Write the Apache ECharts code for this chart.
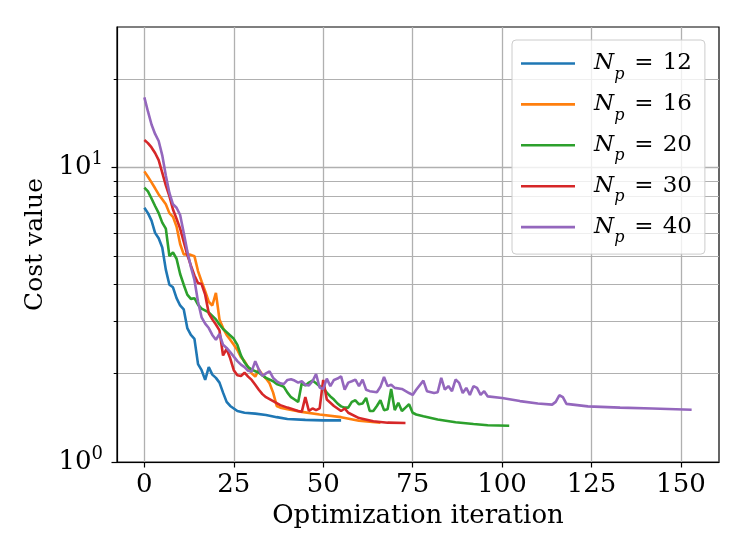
<!DOCTYPE html>
<html><head><meta charset="utf-8">
<script src="https://cdn.jsdelivr.net/npm/echarts@6/dist/echarts.min.js"></script>
<style>html,body{margin:0;padding:0;background:#fff}#c{width:747px;height:560px}</style>
</head><body><div id="c"></div>
<script>
const seriesLabels = ['12', '16', '20', '30', '40'];
const xTicks = [0, 25, 50, 75, 100, 125, 150];
const yMajorTicks = [1, 10];
const yMinorTicks = [2, 3, 4, 5, 6, 7, 8, 9, 20];

const np12 = [[0,7.3],[1,7.0],[2,6.6],[3,6.0],[4,5.75],[5,5.35],[6,4.5],[7,4.0],[8,3.92],[9,3.6],[10,3.4],[11,3.3],[12,2.85],[13,2.7],[14,2.62],[15,2.15],[16,2.05],[17,1.9],[18,2.1],[19,1.98],[20,1.93],[21,1.86],[22,1.72],[23,1.6],[24,1.55],[26,1.49],[28,1.47],[31,1.46],[34,1.445],[37,1.42],[40,1.40],[45,1.39],[50,1.385],[55,1.385]];
const np16 = [[0,9.7],[1,9.3],[2,8.9],[3,8.5],[4,8.1],[5,7.8],[6,7.5],[7,7.0],[8,6.8],[9,6.3],[10,5.5],[11,5.07],[12,5.07],[13,5.05],[14,5.0],[15,4.45],[16,4.1],[17,3.8],[18,3.5],[19,3.4],[20,3.75],[21,3.05],[22,2.85],[23,2.7],[24,2.6],[25,2.5],[26,2.4],[27,2.27],[28,2.2],[29,2.1],[30,2.0],[31,1.95],[32,2.06],[33,1.98],[34,1.92],[35,1.85],[36,1.72],[37,1.55],[38,1.53],[40,1.51],[44,1.48],[49,1.45],[55,1.42],[60,1.38],[66,1.36]];
const np20 = [[0,8.55],[1,8.3],[2,7.85],[3,7.4],[4,7.0],[5,6.5],[6,6.2],[7,5.0],[8,5.15],[9,4.9],[10,4.35],[11,4.0],[12,3.7],[13,3.58],[14,3.6],[15,3.42],[16,3.32],[18,3.22],[20,3.05],[21,2.93],[22,2.83],[23,2.76],[24,2.69],[25,2.62],[26,2.5],[27,2.3],[28,2.18],[29,2.1],[30,2.06],[32,2.01],[34,1.93],[36,1.88],[37,1.84],[38,1.82],[39,1.8],[40,1.72],[41,1.66],[42,1.63],[43,1.6],[44,1.85],[45,1.82],[46,1.86],[47,1.89],[48,1.85],[49,1.81],[50,1.79],[51,1.72],[52,1.67],[53,1.63],[54,1.58],[55,1.545],[56,1.53],[57,1.53],[58,1.6],[59,1.62],[60,1.57],[61,1.58],[62,1.65],[63,1.49],[64,1.49],[65,1.55],[66,1.62],[67,1.5],[68,1.51],[69,1.77],[70,1.5],[71,1.59],[72,1.49],[73,1.53],[74,1.57],[75,1.47],[76,1.45],[78,1.43],[82,1.395],[87,1.365],[92,1.346],[96,1.333],[102,1.328]];
const np30 = [[0,12.4],[1,12.1],[2,11.7],[3,11.2],[4,10.6],[5,9.6],[6,8.7],[7,8.0],[8,7.2],[9,6.7],[10,6.2],[11,5.6],[12,5.05],[13,4.65],[14,4.3],[15,4.05],[16,4.02],[17,3.7],[18,3.2],[19,3.05],[20,2.93],[21,2.8],[22,2.3],[23,2.42],[24,2.25],[25,2.05],[26,1.97],[27,1.96],[28,2.01],[29,1.95],[30,1.9],[31,1.83],[32,1.76],[33,1.7],[34,1.66],[36,1.61],[38,1.56],[40,1.53],[43,1.49],[44,1.48],[45,1.66],[46,1.49],[47,1.52],[48,1.5],[49,1.52],[50,1.9],[51,1.63],[53,1.55],[55,1.49],[56,1.52],[57,1.47],[60,1.41],[64,1.375],[68,1.36],[73,1.357]];
const np40 = [[0,17.3],[1,15.5],[2,14.0],[3,13.0],[4,12.3],[5,11.0],[6,9.4],[7,8.2],[8,7.5],[9,7.3],[10,6.9],[11,6.0],[12,5.2],[13,4.6],[14,4.15],[15,3.5],[16,3.1],[17,2.95],[18,2.85],[19,2.7],[20,2.6],[21,2.72],[22,2.5],[23,2.44],[24,2.36],[25,2.28],[26,2.2],[27,2.14],[28,2.1],[29,2.04],[30,2.03],[31,2.2],[32,2.06],[33,1.96],[34,2.0],[35,2.03],[36,1.93],[37,1.88],[38,1.85],[39,1.84],[40,1.9],[41,1.91],[42,1.89],[43,1.86],[44,1.88],[45,1.83],[46,1.82],[47,1.88],[48,1.99],[49,1.79],[50,1.77],[51,1.92],[52,1.81],[53,1.9],[54,1.92],[55,1.955],[56,1.76],[57,1.86],[58,1.88],[59,1.905],[60,1.81],[61,1.905],[62,1.76],[63,1.74],[65,1.725],[66,1.8],[67,1.945],[68,1.81],[69,1.83],[70,1.785],[72,1.77],[74,1.715],[75,1.69],[76,1.76],[78,1.89],[79,1.74],[81,1.715],[82,1.725],[83,1.93],[84,1.76],[85,1.81],[86,1.74],[87,1.905],[88,1.857],[89,1.715],[90,1.785],[91,1.69],[92,1.81],[93,1.785],[94,1.69],[95,1.74],[96,1.67],[100,1.65],[105,1.61],[110,1.58],[114,1.566],[115,1.6],[116,1.685],[117,1.66],[118,1.575],[124,1.545],[133,1.53],[142,1.52],[153,1.505]];

const allData = [np12, np16, np20, np30, np40];
const colors = ['#1f77b4', '#ff7f0e', '#2ca02c', '#d62728', '#9467bd'];
const FONT = 'DejaVu Serif';
const GRID = '#b0b0b0';

const chart = echarts.init(document.getElementById('c'), null, {renderer: 'canvas'});
const names = seriesLabels.map(s => 'Np' + s);

chart.setOption({
  animation: false,
  backgroundColor: '#fff',
  grid: {left: 117, right: 28, top: 27, bottom: 98, show: true, borderColor: '#000', borderWidth: 1.2, backgroundColor: 'transparent'},
  legend: {
    orient: 'vertical', left: 512, top: 40,
    data: names,
    icon: 'rect',
    itemWidth: 54, itemHeight: 2.6, itemGap: 10.4,
    padding: [12, 13, 8, 9],
    backgroundColor: 'rgba(255,255,255,0.8)',
    borderColor: '#cccccc', borderWidth: 1, borderRadius: 4,
    formatter: function (name) {
      const idx = names.indexOf(name);
      return '{i|N}{s|p}{e|=}{n|' + seriesLabels[idx] + '}';
    },
    textStyle: {
      fontFamily: FONT, fontSize: 23, color: '#000',
      rich: {
        i: {fontFamily: FONT, fontStyle: 'italic', fontSize: 23, lineHeight: 34, padding: [0, 0, 0, 14], color: '#000'},
        s: {fontFamily: FONT, fontStyle: 'italic', fontSize: 16, verticalAlign: 'bottom', lineHeight: 16, padding: [0, 0, -2, 0], color: '#000'},
        e: {fontFamily: FONT, fontSize: 23, lineHeight: 34, padding: [0, 9, 0, 10], color: '#000'},
        n: {fontFamily: FONT, fontSize: 23, lineHeight: 34, color: '#000'}
      }
    }
  },
  xAxis: {
    type: 'value', min: -7.65, max: 160.65,
    name: 'Optimization iteration', nameLocation: 'middle', nameGap: 41,
    nameTextStyle: {fontFamily: FONT, fontSize: 26, color: '#000'},
    axisLine: {show: true, onZero: false, lineStyle: {color: '#000', width: 1.2}},
    axisTick: {show: true, inside: false, length: 5.5, customValues: xTicks, lineStyle: {color: '#000', width: 1.2}},
    axisLabel: {customValues: xTicks, margin: 10, fontFamily: FONT, fontSize: 26, color: '#000'},
    splitLine: {show: true, lineStyle: {color: GRID, width: 1.3}}
  },
  yAxis: [{
    type: 'log', logBase: 10, min: 1, max: 30,
    name: 'Cost value', nameLocation: 'middle', nameGap: 68, nameRotate: 90,
    nameTextStyle: {fontFamily: FONT, fontSize: 25, color: '#000'},
    axisLine: {show: true, onZero: false, lineStyle: {color: '#000', width: 1.2}},
    axisTick: {show: true, inside: false, length: 5.5, customValues: yMajorTicks, lineStyle: {color: '#000', width: 1.2}},
    axisLabel: {
      customValues: yMajorTicks, margin: 14, fontFamily: FONT, fontSize: 26, color: '#000',
      formatter: function (v) { return '{b|10}{sup|' + Math.round(Math.log10(v)) + '}'; },
      rich: {
        b: {fontFamily: FONT, fontSize: 26, lineHeight: 34, color: '#000'},
        sup: {fontFamily: FONT, fontSize: 18, verticalAlign: 'top', lineHeight: 18, color: '#000'}
      }
    },
    splitLine: {show: true, lineStyle: {color: GRID, width: 1.3}}
  }, {
    type: 'log', logBase: 10, min: 1, max: 30, position: 'left', offset: 0,
    axisLine: {show: false, onZero: false},
    axisTick: {show: true, inside: false, length: 3.3, customValues: yMinorTicks, lineStyle: {color: '#000', width: 1}},
    axisLabel: {show: false},
    splitLine: {show: true, lineStyle: {color: GRID, width: 1.1}}
  }],
  series: allData.map((d, i) => ({
    name: names[i], type: 'line', data: d,
    showSymbol: false, symbol: 'none',
    lineStyle: {width: 2.6, color: colors[i]},
    itemStyle: {color: colors[i]},
    z: 3 + i
  }))
});
</script>
</body></html>
